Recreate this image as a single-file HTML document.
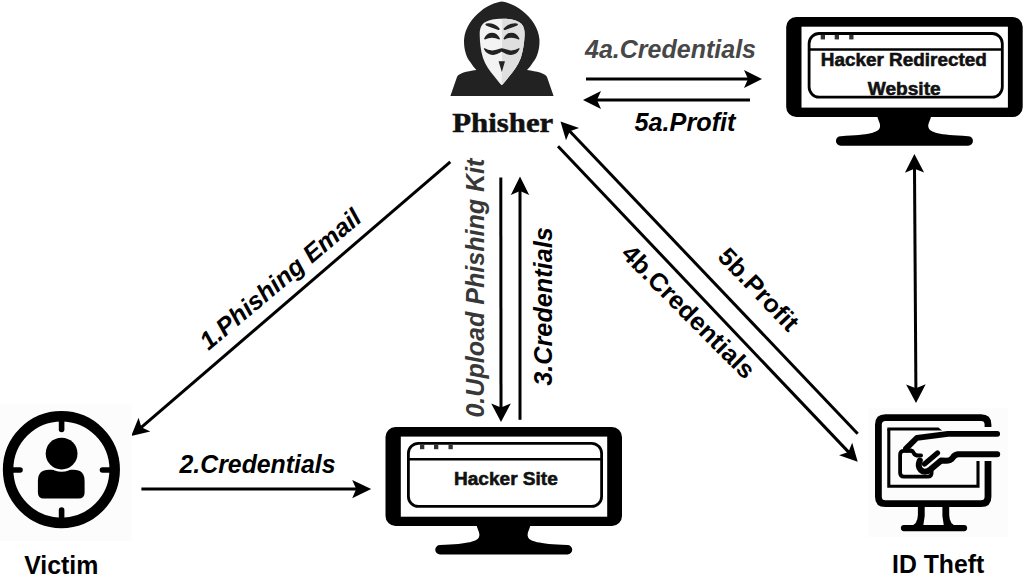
<!DOCTYPE html>
<html><head><meta charset="utf-8"><style>
html,body{margin:0;padding:0;background:#fff;width:1024px;height:578px;overflow:hidden}
svg{display:block}
</style></head><body>
<svg width="1024" height="578" viewBox="0 0 1024 578">
<g transform="translate(385.5,427)">
<rect x="0" y="0" width="236.5" height="99" rx="10" fill="#000"/>
<rect x="15.3" y="9.6" width="206.4" height="80.1" fill="#fff"/>
<rect x="22.9" y="16.3" width="193.2" height="63.1" rx="10" fill="none" stroke="#000" stroke-width="2.8"/>
<line x1="22.9" y1="32.2" x2="216.1" y2="32.2" stroke="#000" stroke-width="2.6"/>
<rect x="34.5" y="17.6" width="4.3" height="4.6" fill="#333"/>
<rect x="48.5" y="17.6" width="4.3" height="4.6" fill="#333"/>
<rect x="63" y="17.6" width="4.3" height="4.6" fill="#333"/>
<path d="M91 98 C92 103 95 106 93.5 110 C92 114 84 117 54.5 118 A4.75 4.75 0 0 0 54.5 127.5 L182 127.5 A4.75 4.75 0 0 0 182 118 C152 117 144 114 142.5 110 C141 106 144 103 145 98 Z" fill="#000"/>
<text x="68.5" y="58" font-family="Liberation Sans, sans-serif" font-weight="bold" font-size="17.5" stroke="#111" stroke-width="0.55" textLength="103.8" lengthAdjust="spacingAndGlyphs" fill="#111">Hacker Site</text></g>
<g transform="translate(786.2,17) scale(1,1.01)">
<rect x="0" y="0" width="236.5" height="99" rx="10" fill="#000"/>
<rect x="15.3" y="9.6" width="206.4" height="80.1" fill="#fff"/>
<rect x="22.9" y="16.3" width="193.2" height="63.1" rx="10" fill="none" stroke="#000" stroke-width="2.8"/>
<line x1="22.9" y1="32.2" x2="216.1" y2="32.2" stroke="#000" stroke-width="2.6"/>
<rect x="34.5" y="17.6" width="4.3" height="4.6" fill="#333"/>
<rect x="48.5" y="17.6" width="4.3" height="4.6" fill="#333"/>
<rect x="63" y="17.6" width="4.3" height="4.6" fill="#333"/>
<path d="M91 98 C92 103 95 106 93.5 110 C92 114 84 117 54.5 118 A4.75 4.75 0 0 0 54.5 127.5 L182 127.5 A4.75 4.75 0 0 0 182 118 C152 117 144 114 142.5 110 C141 106 144 103 145 98 Z" fill="#000"/>
<text x="34.6" y="49" font-family="Liberation Sans, sans-serif" font-weight="bold" font-size="17.5" stroke="#111" stroke-width="0.55" textLength="166" lengthAdjust="spacingAndGlyphs" fill="#111">Hacker Redirected</text><text x="81.5" y="76.8" font-family="Liberation Sans, sans-serif" font-weight="bold" font-size="17.5" stroke="#111" stroke-width="0.55" textLength="73" lengthAdjust="spacingAndGlyphs" fill="#111">Website</text></g>
<line x1="586.0" y1="79.0" x2="749.0" y2="79.0" stroke="#000" stroke-width="3"/><polygon points="762.0,79.0 744.0,88.0 748.0,79.0 744.0,70.0" fill="#000"/>
<line x1="750.0" y1="100.0" x2="596.0" y2="100.0" stroke="#000" stroke-width="3"/><polygon points="583.0,100.0 601.0,91.0 597.0,100.0 601.0,109.0" fill="#000"/>
<line x1="857.7" y1="433.7" x2="569.1" y2="130.5" stroke="#000" stroke-width="3"/><polygon points="560.5,121.4 579.1,127.9 569.8,131.2 566.0,140.3" fill="#000"/>
<line x1="558.0" y1="146.3" x2="849.1" y2="452.6" stroke="#000" stroke-width="3"/><polygon points="857.7,461.7 839.1,455.2 848.4,451.9 852.2,442.8" fill="#000"/>
<line x1="450.3" y1="161.8" x2="140.7" y2="427.9" stroke="#000" stroke-width="3"/><polygon points="131.2,436.0 138.6,417.8 141.4,427.2 150.3,431.4" fill="#000"/>
<line x1="141.4" y1="489.1" x2="357.2" y2="489.1" stroke="#000" stroke-width="3"/><polygon points="371.2,489.1 352.2,498.3 356.2,489.1 352.2,479.9" fill="#000"/>
<line x1="500.8" y1="177.4" x2="501.0" y2="408.4" stroke="#000" stroke-width="3"/><polygon points="501.0,421.9 491.2,403.4 501.0,407.4 510.8,403.4" fill="#000"/>
<line x1="520.0" y1="419.8" x2="520.0" y2="190.1" stroke="#000" stroke-width="3"/><polygon points="520.0,176.6 529.2,195.1 520.0,191.1 510.8,195.1" fill="#000"/>
<polygon points="914.4,154.0 924.1,172.6 914.5,168.7 904.9,172.8" fill="#000"/>
<polygon points="916.0,403.0 906.1,384.4 915.9,388.3 925.7,384.2" fill="#000"/>
<line x1="914.5" y1="168" x2="915.9" y2="389" stroke="#000" stroke-width="3"/>
<text x="585" y="58" font-family="Liberation Sans, sans-serif" font-weight="bold" font-style="italic" font-size="25" fill="#474747" textLength="171" lengthAdjust="spacingAndGlyphs">4a.Credentials</text>
<text x="634.5" y="131" font-family="Liberation Sans, sans-serif" font-weight="bold" font-style="italic" font-size="25" fill="#000" textLength="101" lengthAdjust="spacingAndGlyphs">5a.Profit</text>
<text x="179.5" y="472.5" font-family="Liberation Sans, sans-serif" font-weight="bold" font-style="italic" font-size="25" fill="#000" textLength="156" lengthAdjust="spacingAndGlyphs">2.Credentials</text>
<text transform="translate(484,417.6) rotate(-90)" x="0" y="0" font-family="Liberation Sans, sans-serif" font-weight="bold" font-style="italic" font-size="25" fill="#383838" textLength="259" lengthAdjust="spacingAndGlyphs">0.Upload Phishing Kit</text>
<text transform="translate(552,385.7) rotate(-90)" x="0" y="0" font-family="Liberation Sans, sans-serif" font-weight="bold" font-style="italic" font-size="25" fill="#000" textLength="158.4" lengthAdjust="spacingAndGlyphs">3.Credentials</text>
<text transform="translate(208.6,351.1) rotate(-40.2)" x="0" y="0" font-family="Liberation Sans, sans-serif" font-weight="bold" font-style="italic" font-size="25" fill="#000" textLength="202.4" lengthAdjust="spacingAndGlyphs">1.Phishing Email</text>
<text transform="translate(619.9,255.1) rotate(45.1)" x="0" y="0" font-family="Liberation Sans, sans-serif" font-weight="bold" font-size="25" fill="#000" textLength="177" lengthAdjust="spacingAndGlyphs">4b.Credentials</text>
<text transform="translate(716.6,257.7) rotate(46.4)" x="0" y="0" font-family="Liberation Sans, sans-serif" font-weight="bold" font-size="25" fill="#000" textLength="104" lengthAdjust="spacingAndGlyphs">5b.Profit</text>
<text x="24.2" y="574" font-family="Liberation Sans, sans-serif" font-weight="bold" font-size="25" fill="#000" textLength="74.2" lengthAdjust="spacingAndGlyphs">Victim</text>
<text x="892" y="573" font-family="Liberation Sans, sans-serif" font-weight="bold" font-size="25" fill="#000" textLength="92.2" lengthAdjust="spacingAndGlyphs">ID Theft</text>
<text x="452.3" y="132.2" font-family="Liberation Serif, serif" font-weight="bold" font-size="27" fill="#111" stroke="#111" stroke-width="0.5" textLength="101" lengthAdjust="spacingAndGlyphs">Phisher</text>
<rect x="0" y="404" width="132" height="137" fill="#fcfcfc"/>
<circle cx="61.4" cy="469.6" r="53.3" fill="none" stroke="#000" stroke-width="10.5"/>
<g stroke="#000" stroke-width="5.6" stroke-linecap="round">
<line x1="61.6" y1="420" x2="61.6" y2="429.5"/>
<line x1="61.6" y1="510" x2="61.6" y2="519.5"/>
<line x1="12" y1="470" x2="20" y2="470"/>
<line x1="102.5" y1="470" x2="110.5" y2="470"/>
</g>
<path d="M37.9 481 Q37.9 469.8 49 469.8 L73.5 469.8 Q84.6 469.8 84.6 481 L84.6 492.6 Q84.6 498.6 78.6 498.6 L43.9 498.6 Q37.9 498.6 37.9 492.6 Z" fill="#000"/>
<circle cx="61.6" cy="453.6" r="18.2" fill="#fcfcfc"/>
<circle cx="61.6" cy="453.6" r="15.9" fill="#000"/>

<path d="M501.7 1.6 C495 2.5 487 6 481 11 C472 18 465 28 464.1 39 C463.5 48 466 57 470.6 62.5 C472.5 65.5 474.5 68 476.4 70 C466 71.5 459 73 457 77 L450.4 96 L553.6 96 L547 77 C545 73 537 71.5 527 70 C529 68 531 65.5 532.9 62.5 C537.5 57 540 48 539.4 39 C538.5 28 531.5 18 522.5 11 C516.5 6 508.5 2.5 501.7 1.6 Z" fill="#222"/>
<path d="M502.2 18.7 C495 18.7 487 19.8 482.8 24 C480 27 479.6 31 479.7 35 C479.9 42 480.5 50 483 58 C485.5 65.5 490 71 494 76 C497 80 499.5 83 501.7 85.3 C504 83 506.5 80 509.5 76 C513.5 71 518 65.5 520.8 58 C523.3 50 524.3 42 524.6 35 C524.7 31 524.3 27 521.6 24 C517.3 19.8 509.5 18.7 502.2 18.7 Z" fill="#f3f3f3"/>
<path d="M502.2 18.7 C509.5 18.7 517.3 19.8 521.6 24 C524.3 27 524.7 31 524.6 35 C524.3 42 523.3 50 520.8 58 C518 65.5 513.5 71 509.5 76 C506.5 80 504 83 501.7 85.3 Z" fill="#dfdfdf"/>
<path d="M486.5 24.5 C491 24 496 26 498.6 29 C495 27.5 491 26.5 486.5 24.5 Z" fill="#222" stroke="#222" stroke-width="2.1" stroke-linejoin="round"/>
<path d="M516.8 24.5 C512.3 24 507.3 26 504.7 29 C508.3 27.5 512.3 26.5 516.8 24.5 Z" fill="#222" stroke="#222" stroke-width="2.1" stroke-linejoin="round"/>
<path d="M485 38.6 C487 35 489.5 33.6 492 33.6 C494.5 33.6 497 35 499 38.6 C497 37.3 494.5 36.8 492 36.8 C489.5 36.8 487 37.3 485 38.6 Z" fill="#222" stroke="#222" stroke-width="1.8" stroke-linejoin="round"/>
<path d="M504.5 38.6 C506.5 35 509 33.6 511.5 33.6 C514 33.6 516.5 35 518.5 38.6 C516.5 37.3 514 36.8 511.5 36.8 C509 36.8 506.5 37.3 504.5 38.6 Z" fill="#222" stroke="#222" stroke-width="1.8" stroke-linejoin="round"/>
<path d="M484.4 48.8 C486 52 489 54.3 493 54.3 C497 54.3 499.5 52 501.7 51 C504 52 506.5 54.3 510.5 54.3 C514.5 54.3 517.5 52 519 48.8 C516.5 50.6 514 51.2 510.5 51 C507 50.6 504 49.5 501.7 48.8 C499.5 49.5 496.5 50.6 493 51 C489.5 51.2 487 50.6 484.4 48.8 Z" fill="#222" stroke="#222" stroke-width="1.2" stroke-linejoin="round"/>
<path d="M498.6 61.3 L505 61.3 L501.8 72 Z" fill="#222"/>

<rect x="868" y="408" width="140" height="129" fill="#fcfcfc"/>
<g fill="none" stroke="#000" stroke-linecap="round" stroke-linejoin="round">
<path d="M988 427 L988 424.5 Q988 417.7 981 417.7 L885.5 417.7 Q878.4 417.7 878.4 424.7 L878.4 496.7 Q878.4 503.7 885.4 503.7 L981 503.7 Q988 503.7 988 496.7 L988 461" stroke-width="6.8" stroke-linecap="butt"/>
<path d="M888.8 429 L888.8 486.2 L978 486.2 L978 461" stroke-width="3.1" stroke-linecap="butt" stroke-linejoin="miter"/>
<path d="M997.2 433.8 L948 433.8 L917 437.8 L906 448.6" stroke-width="5.8"/>
<polygon points="887.3,427.5 938.5,427.5 942,430.5 925,430.6 887.3,430.6" fill="#000" stroke="none"/>
<path d="M912 450.9 L904 450.9 Q900.1 450.9 900.1 454.8 L900.1 472.8 Q900.1 476.7 904 476.7 L927.8 476.7 Q931.6 476.7 931.6 472.8 L931.6 470" stroke-width="3.8"/>
<path d="M905 450.5 L911 450.5 Q913 451 914 453.5 Q915 455.5 918.5 455.5 L921 455.5" stroke-width="4"/>
<path d="M997.2 454.3 L958 454.3 Q954.5 454.6 952.5 458 Q950.5 460.8 946 460.8 L941 460.6 L930.5 469.4 Q925 473.8 920.8 470 Q917.2 466.5 919.8 460.5" stroke-width="6"/>
<path d="M937.5 453 L924.5 464" stroke-width="5.2"/>
<path d="M917.9 505 L924.7 505 L924.7 516 L923.2 526 L910 526 Q917.6 525 917.9 515 Z" fill="#000" stroke="none"/>
<path d="M942.4 505 L949.2 505 L949.2 515 Q949.5 525 957 526 L943.9 526 L942.4 516 Z" fill="#000" stroke="none"/>
<path d="M904 528.1 L964 528.1" stroke-width="6.3"/>
</g>
</svg></body></html>
